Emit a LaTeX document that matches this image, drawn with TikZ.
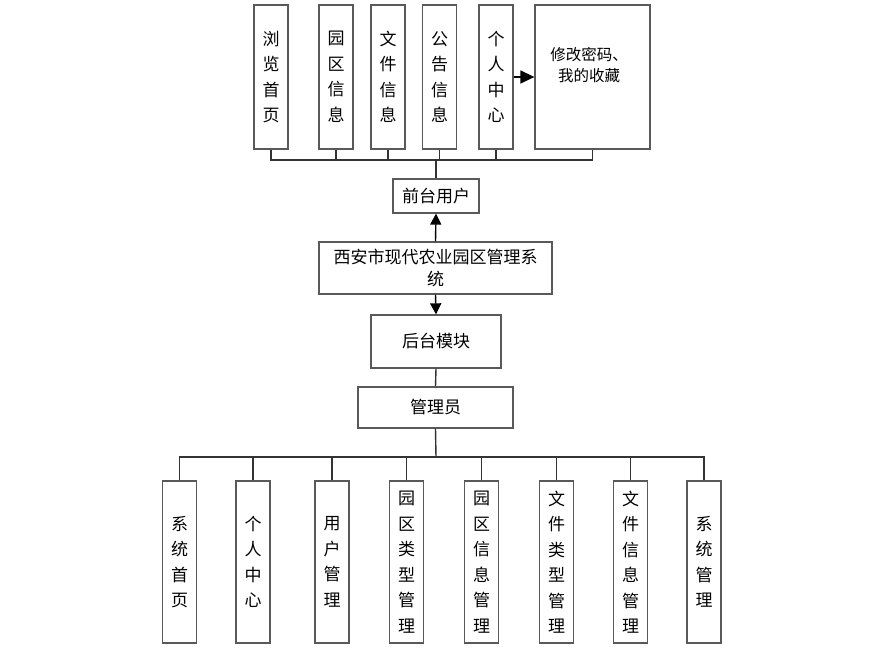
\documentclass[tikz,border=0pt]{standalone}
\usepackage{fontspec}
\newfontfamily\cjk{Noto Sans CJK SC}
\usetikzlibrary{arrows.meta}

\begin{document}
\begin{tikzpicture}[x=1pt, y=-1pt,
          box/.style={draw=black!65, line width=1.3pt, fill=white, inner sep=0pt,
            align=center, font=\cjk\fontsize{17}{25.5}\selectfont},
          vbox/.style={box, minimum width=34pt, minimum height=144pt},
          lbox/.style={box, minimum width=34pt, minimum height=162pt},
          link/.style={draw=black!80, line width=1.4pt},
          arr/.style={link, draw=black, -{Triangle[length=11pt, width=11pt]}},
        ]
          \useasboundingbox (0,0) rectangle (880,653);
          \coordinate (topbus) at (436,160);
          \coordinate (botbus) at (436,457);
          % front end
          \node[vbox] (llsy) at (271,77)   {浏\\览\\首\\页};
          \node[vbox] (yqxx) at (336,77)   {园\\区\\信\\息};
          \node[vbox] (wjxx) at (388,77)   {文\\件\\信\\息};
          \node[vbox] (ggxx) at (439.5,77) {公\\告\\信\\息};
          \node[vbox] (grzx) at (496,77)   {个\\人\\中\\心};
          \node[box, minimum width=115pt, minimum height=144pt] (xgmm) at (592.5,77) {};
          \node[font=\cjk\fontsize{15.5}{21}\selectfont, align=center] at (589,65) {修改密码、\\我的收藏};
          \node[box, minimum width=86pt, minimum height=34pt] (qtyh) at (436,196) {前台用户};
          \node[box, minimum width=233pt, minimum height=52pt,
                font=\cjk\fontsize{17}{22}\selectfont] (xt) at (435.5,268) {西安市现代农业园区管理系\\统};
          % back end
          \node[box, minimum width=130pt, minimum height=53pt] (htmk) at (436,341.5) {后台模块};
          \node[box, minimum width=155pt, minimum height=41pt] (gly) at (435.5,407.5) {管理员};
          \node[lbox] (xtsy) at (179.5,562) {系\\统\\首\\页};
          \node[lbox] (grzx2) at (253,562) {个\\人\\中\\心};
          \node[lbox] (yhgl) at (332,562) {用\\户\\管\\理};
          \node[lbox] (yqlx) at (406.5,562) {园\\区\\类\\型\\管\\理};
          \node[lbox] (yqgl) at (481.5,562) {园\\区\\信\\息\\管\\理};
          \node[lbox] (wjlx) at (556.5,562) {文\\件\\类\\型\\管\\理};
          \node[lbox] (wjgl) at (630.5,562) {文\\件\\信\\息\\管\\理};
          \node[lbox] (xtgl) at (704,562) {系\\统\\管\\理};
          % connectors
          \foreach \n in {llsy, yqxx, wjxx, ggxx, grzx, xgmm}
            \draw[link] (\n.south) |- (topbus);
          \draw[link] (qtyh.north) -- (topbus);
          \draw[arr, -{Triangle[length=14pt, width=13pt]}] (grzx.east) -- (xgmm.west);
          \draw[arr] (xt.north) -- (qtyh.south);
          \draw[arr] (xt.south) -- (htmk.north);
          \draw[link] (htmk.south) -- (gly.north);
          \draw[link] (gly.south) -- (botbus);
          \foreach \n in {xtsy, grzx2, yhgl, yqlx, yqgl, wjlx, wjgl, xtgl}
            \draw[link] (\n.north) |- (botbus);
        \end{tikzpicture}
\end{document}
